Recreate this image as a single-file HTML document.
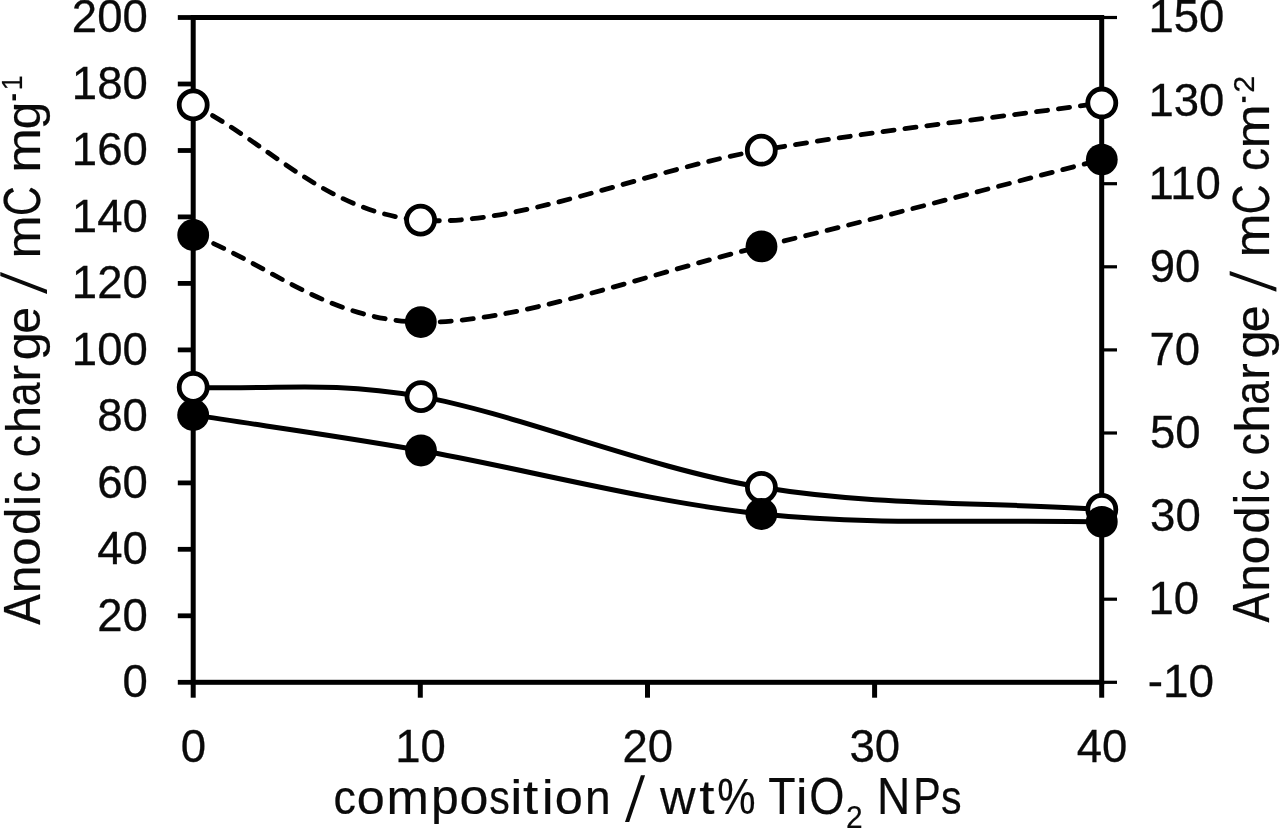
<!DOCTYPE html>
<html><head><meta charset="utf-8"><title>chart</title>
<style>
html,body{margin:0;padding:0;background:#fff;}
body{width:1280px;height:828px;overflow:hidden;}
svg{display:block;filter:grayscale(1) blur(0.6px);}
text{font-family:"Liberation Sans",sans-serif;fill:#0a0a0a;}
.tk text{stroke:#0a0a0a;stroke-width:0.3px;}
.tt text{stroke:#0a0a0a;stroke-width:0.2px;}
</style></head><body>
<svg width="1280" height="828" viewBox="0 0 1280 828">
<rect x="0" y="0" width="1280" height="828" fill="#fff"/>
<g stroke="#000" fill="none" stroke-linecap="butt">
<rect x="193.2" y="17.5" width="908.5" height="664.8" stroke-width="5.0"/>
<line x1="177.8" y1="682.3" x2="193.2" y2="682.3" stroke-width="4.8"/>
<line x1="177.8" y1="615.8" x2="193.2" y2="615.8" stroke-width="4.8"/>
<line x1="177.8" y1="549.3" x2="193.2" y2="549.3" stroke-width="4.8"/>
<line x1="177.8" y1="482.9" x2="193.2" y2="482.9" stroke-width="4.8"/>
<line x1="177.8" y1="416.4" x2="193.2" y2="416.4" stroke-width="4.8"/>
<line x1="177.8" y1="349.9" x2="193.2" y2="349.9" stroke-width="4.8"/>
<line x1="177.8" y1="283.4" x2="193.2" y2="283.4" stroke-width="4.8"/>
<line x1="177.8" y1="216.9" x2="193.2" y2="216.9" stroke-width="4.8"/>
<line x1="177.8" y1="150.5" x2="193.2" y2="150.5" stroke-width="4.8"/>
<line x1="177.8" y1="84.0" x2="193.2" y2="84.0" stroke-width="4.8"/>
<line x1="177.8" y1="17.5" x2="193.2" y2="17.5" stroke-width="4.8"/>
<line x1="1101.7" y1="682.3" x2="1117" y2="682.3" stroke-width="3.2"/>
<line x1="1101.7" y1="599.2" x2="1117" y2="599.2" stroke-width="3.2"/>
<line x1="1101.7" y1="516.1" x2="1117" y2="516.1" stroke-width="3.2"/>
<line x1="1101.7" y1="433.0" x2="1117" y2="433.0" stroke-width="3.2"/>
<line x1="1101.7" y1="349.9" x2="1117" y2="349.9" stroke-width="3.2"/>
<line x1="1101.7" y1="266.8" x2="1117" y2="266.8" stroke-width="3.2"/>
<line x1="1101.7" y1="183.7" x2="1117" y2="183.7" stroke-width="3.2"/>
<line x1="1101.7" y1="100.6" x2="1117" y2="100.6" stroke-width="3.2"/>
<line x1="1101.7" y1="17.5" x2="1117" y2="17.5" stroke-width="3.2"/>
<line x1="193.2" y1="682.3" x2="193.2" y2="697.7" stroke-width="5"/>
<line x1="420.3" y1="682.3" x2="420.3" y2="697.7" stroke-width="5"/>
<line x1="647.5" y1="682.3" x2="647.5" y2="697.7" stroke-width="5"/>
<line x1="874.6" y1="682.3" x2="874.6" y2="697.7" stroke-width="5"/>
<line x1="1101.7" y1="682.3" x2="1101.7" y2="697.7" stroke-width="5"/>
</g>
<g stroke="#000" fill="none">
<path d="M193.2 104.9 C269.0 143.3 325.9 212.6 420.6 220.1 C515.3 227.6 647.8 169.7 761.3 150.2 C874.8 130.7 988.3 118.7 1101.8 103.0" stroke-width="4.8" stroke-dasharray="11.2 10.92" stroke-linecap="round"/>
<path d="M193.2 235.0 C269.1 264.0 326.1 320.2 420.8 322.1 C515.5 324.0 648.0 273.5 761.5 246.4 C875.0 219.3 988.4 188.5 1101.8 159.6" stroke-width="4.8" stroke-dasharray="11.2 10.92" stroke-linecap="round"/>
<path d="M193.2 387.3 C269.1 390.4 326.3 379.9 421.0 396.6 C515.7 413.3 647.9 468.5 761.4 487.3 C874.9 506.1 988.3 502.0 1101.8 509.4" stroke-width="5"/>
<path d="M193.2 414.9 C269.1 426.8 326.3 434.0 421.0 450.5 C515.7 467.0 647.9 502.1 761.4 514.0 C874.9 525.9 988.3 519.2 1101.8 521.8" stroke-width="5"/>
</g>
<g stroke="#000" stroke-width="4.8" fill="#fff">
<circle cx="193.2" cy="104.9" r="14"/>
<circle cx="420.6" cy="220.1" r="14"/>
<circle cx="761.3" cy="150.2" r="14"/>
<circle cx="1101.8" cy="103.0" r="14"/>
<circle cx="193.2" cy="387.3" r="14"/>
<circle cx="421.0" cy="396.6" r="14"/>
<circle cx="761.4" cy="487.3" r="14"/>
<circle cx="1101.8" cy="509.4" r="14"/>
</g>
<g fill="#000">
<circle cx="193.2" cy="235.0" r="15.9"/>
<circle cx="420.8" cy="322.1" r="15.9"/>
<circle cx="761.5" cy="246.4" r="15.9"/>
<circle cx="1101.8" cy="159.6" r="15.9"/>
<circle cx="193.2" cy="414.9" r="15.9"/>
<circle cx="421.0" cy="450.5" r="15.9"/>
<circle cx="761.4" cy="514.0" r="15.9"/>
<circle cx="1101.8" cy="521.8" r="15.9"/>
</g>
<g class="tk">
<text x="122.45" y="697.24" font-size="45.5">0</text>
<text x="97.20" y="630.76" font-size="45.5">20</text>
<text x="97.20" y="564.28" font-size="45.5">40</text>
<text x="97.20" y="497.80" font-size="45.5">60</text>
<text x="97.20" y="431.32" font-size="45.5">80</text>
<text x="71.83" y="364.84" font-size="45.5">100</text>
<text x="71.83" y="298.36" font-size="45.5">120</text>
<text x="71.83" y="231.88" font-size="45.5">140</text>
<text x="71.83" y="165.40" font-size="45.5">160</text>
<text x="71.83" y="98.92" font-size="45.5">180</text>
<text x="71.83" y="32.44" font-size="45.5">200</text>
<text transform="translate(1147.63,697.24) scale(1.0098,1.000)" font-size="45.5">-10</text>
<text x="1148.39" y="614.14" font-size="45.5">10</text>
<text x="1150.09" y="531.04" font-size="45.5">30</text>
<text x="1149.98" y="447.94" font-size="45.5">50</text>
<text x="1149.41" y="364.84" font-size="45.5">70</text>
<text x="1149.64" y="281.74" font-size="45.5">90</text>
<text x="1148.39" y="198.64" font-size="45.5">110</text>
<text x="1148.39" y="115.54" font-size="45.5">130</text>
<text x="1148.39" y="32.44" font-size="45.5">150</text>
<text x="180.85" y="761.84" font-size="45.5">0</text>
<text x="395.32" y="761.84" font-size="45.5">10</text>
<text x="622.44" y="761.84" font-size="45.5">20</text>
<text x="849.57" y="761.84" font-size="45.5">30</text>
<text x="1076.69" y="761.84" font-size="45.5">40</text>
</g>
<g class="tt">
<text transform="translate(333.49,814.30) scale(0.9160,1.000)" font-size="49.0">c</text>
<text transform="translate(356.86,814.30) scale(1.0280,1.000)" font-size="49.0">o</text>
<text transform="translate(386.57,814.30) scale(1.0379,1.000)" font-size="49.0">m</text>
<text transform="translate(430.95,814.30) scale(1.0204,1.000)" font-size="49.0">p</text>
<text transform="translate(459.59,814.30) scale(1.0625,1.000)" font-size="49.0">o</text>
<text transform="translate(489.31,814.30) scale(0.8400,1.000)" font-size="49.0">s</text>
<text transform="translate(510.30,814.30) scale(1.1195,1.000)" font-size="49.0">i</text>
<text transform="translate(522.93,814.30) scale(1.1200,1.000)" font-size="49.0">t</text>
<text transform="translate(541.87,814.30) scale(1.0962,1.000)" font-size="49.0">i</text>
<text transform="translate(554.65,814.30) scale(1.0323,1.000)" font-size="49.0">o</text>
<text transform="translate(584.88,814.30) scale(0.9419,1.000)" font-size="49.0">n</text>
<polygon points="625.0,822.0 629.2,822.0 645.1,775.2 640.9,775.2" fill="#0a0a0a"/>
<text transform="translate(659.90,814.30) scale(1.0049,1.000)" font-size="49.0">w</text>
<text transform="translate(699.15,814.30) scale(1.1200,1.000)" font-size="49.0">t</text>
<text transform="translate(717.24,814.30) scale(0.8800,1.030)" font-size="49.0">&#37;</text>
<text transform="translate(768.24,814.30) scale(0.9120,1.045)" font-size="49.0">T</text>
<text transform="translate(795.93,814.30) scale(1.0496,1.030)" font-size="49.0">i</text>
<text transform="translate(809.25,814.30) scale(0.9240,1.045)" font-size="49.0">O</text>
<text transform="translate(846.01,827.60) scale(0.9800,1.000)" font-size="30.5">2</text>
<text transform="translate(876.90,814.30) scale(0.9408,1.045)" font-size="49.0">N</text>
<text transform="translate(913.15,814.30) scale(0.8400,1.045)" font-size="49.0">P</text>
<text transform="translate(941.01,814.30) scale(0.8400,1.000)" font-size="49.0">s</text>
<text transform="translate(39.80,624.71) rotate(-90) scale(0.9334,1.045)" font-size="49.0">A</text>
<text transform="translate(39.80,593.36) rotate(-90) scale(1.0144,1.000)" font-size="49.0">n</text>
<text transform="translate(39.80,565.99) rotate(-90) scale(1.0539,1.000)" font-size="49.0">o</text>
<text transform="translate(39.80,535.10) rotate(-90) scale(1.0068,1.000)" font-size="49.0">d</text>
<text transform="translate(39.80,505.99) rotate(-90) scale(1.0262,1.000)" font-size="49.0">i</text>
<text transform="translate(39.80,492.62) rotate(-90) scale(0.8733,1.000)" font-size="49.0">c</text>
<text transform="translate(39.80,457.21) rotate(-90) scale(0.9160,1.000)" font-size="49.0">c</text>
<text transform="translate(39.80,433.35) rotate(-90) scale(1.0058,1.000)" font-size="49.0">h</text>
<text transform="translate(39.80,406.31) rotate(-90) scale(0.8681,1.000)" font-size="49.0">a</text>
<text transform="translate(39.80,381.70) rotate(-90) scale(1.0286,1.000)" font-size="49.0">r</text>
<text transform="translate(39.80,360.14) rotate(-90) scale(1.0295,1.000)" font-size="49.0">g</text>
<text transform="translate(39.80,333.85) rotate(-90) scale(0.9857,1.000)" font-size="49.0">e</text>
<text transform="translate(39.80,258.39) rotate(-90) scale(1.0554,1.000)" font-size="49.0">m</text>
<text transform="translate(39.80,216.02) rotate(-90) scale(0.8400,1.045)" font-size="49.0">C</text>
<text transform="translate(39.80,172.73) rotate(-90) scale(1.0962,1.000)" font-size="49.0">m</text>
<text transform="translate(39.80,129.21) rotate(-90) scale(1.0113,1.000)" font-size="49.0">g</text>
<polygon points="47.0,293.9 47.0,289.7 0.3,271.9 0.3,276.1" fill="#0a0a0a"/>
<rect x="12.4" y="94.2" width="3.6" height="6.2" fill="#0a0a0a"/>
<text transform="translate(22.40,90.21) rotate(-90) scale(0.9249,1.000)" font-size="29.0">1</text>
<text transform="translate(1269.00,622.41) rotate(-90) scale(0.9026,1.045)" font-size="49.0">A</text>
<text transform="translate(1269.00,591.76) rotate(-90) scale(1.0144,1.000)" font-size="49.0">n</text>
<text transform="translate(1269.00,564.39) rotate(-90) scale(1.0539,1.000)" font-size="49.0">o</text>
<text transform="translate(1269.00,533.47) rotate(-90) scale(0.9932,1.000)" font-size="49.0">d</text>
<text transform="translate(1269.00,504.16) rotate(-90) scale(0.9563,1.000)" font-size="49.0">i</text>
<text transform="translate(1269.00,490.92) rotate(-90) scale(0.8733,1.000)" font-size="49.0">c</text>
<text transform="translate(1269.00,455.51) rotate(-90) scale(0.9160,1.000)" font-size="49.0">c</text>
<text transform="translate(1269.00,432.73) rotate(-90) scale(1.0593,1.000)" font-size="49.0">h</text>
<text transform="translate(1269.00,404.71) rotate(-90) scale(0.8681,1.000)" font-size="49.0">a</text>
<text transform="translate(1269.00,380.10) rotate(-90) scale(1.0286,1.000)" font-size="49.0">r</text>
<text transform="translate(1269.00,358.54) rotate(-90) scale(1.0295,1.000)" font-size="49.0">g</text>
<text transform="translate(1269.00,332.25) rotate(-90) scale(0.9857,1.000)" font-size="49.0">e</text>
<text transform="translate(1269.00,257.57) rotate(-90) scale(1.0787,1.000)" font-size="49.0">m</text>
<text transform="translate(1269.00,214.27) rotate(-90) scale(0.8400,1.045)" font-size="49.0">C</text>
<text transform="translate(1269.00,171.06) rotate(-90) scale(0.9397,1.000)" font-size="49.0">c</text>
<text transform="translate(1269.00,148.48) rotate(-90) scale(1.0816,1.000)" font-size="49.0">m</text>
<polygon points="1276.4,291.7 1276.4,287.5 1229.7,271.0 1229.7,275.2" fill="#0a0a0a"/>
<rect x="1242.2" y="96.7" width="3.5" height="5.4" fill="#0a0a0a"/>
<text transform="translate(1253.90,92.83) rotate(-90) scale(1.0183,1.000)" font-size="30.0">2</text>
</g>
</svg>
</body></html>
